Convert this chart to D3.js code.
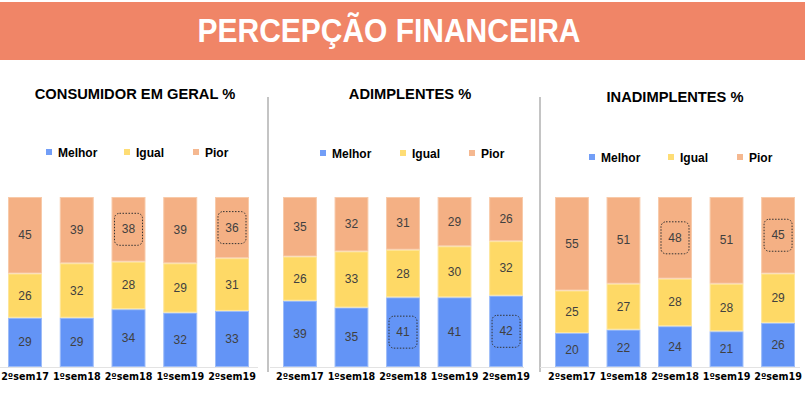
<!DOCTYPE html>
<html><head><meta charset="utf-8">
<script src="https://cdn.jsdelivr.net/npm/d3@7"></script>
<style>body{margin:0;background:#fff}svg{display:block}</style>
</head><body>
<svg id="c" width="808" height="396"></svg>
<script>
const mainTitle = "PERCEPÇÃO FINANCEIRA";
const categories = ["2ºsem17","1ºsem18","2ºsem18","1ºsem19","2ºsem19"];
const seriesNames = ["Melhor","Igual","Pior"];
const panelTitles = ["CONSUMIDOR EM GERAL %","ADIMPLENTES %","INADIMPLENTES %"];

const consumidorMelhor = [29,29,34,32,33];
const consumidorIgual  = [26,32,28,29,31];
const consumidorPior   = [45,39,38,39,36];

const adimplentesMelhor = [39,35,41,41,42];
const adimplentesIgual  = [26,33,28,30,32];
const adimplentesPior   = [35,32,31,29,26];

const inadimplentesMelhor = [20,22,24,21,26];
const inadimplentesIgual  = [25,27,28,28,29];
const inadimplentesPior   = [55,51,48,51,45];

const highlightCategories = ["2ºsem18","2ºsem19"];
const highlightSeries = ["Pior","Melhor","Pior"];

const colors = {Melhor:"#6394f6", Igual:"#fed966", Pior:"#f4b084"};
const strokeCol = {Melhor:"#9dbcf8", Igual:"#fee69a", Pior:"#f8caa9"};

const panels = [
  {title: panelTitles[0], data:[consumidorMelhor,consumidorIgual,consumidorPior],
   x0:8, x1:249, titleX:135, titleY:99, legX:[46,124,193], legY:152, base:[0,258]},
  {title: panelTitles[1], data:[adimplentesMelhor,adimplentesIgual,adimplentesPior],
   x0:283, x1:523, titleX:410, titleY:99, legX:[320,400,469], legY:153, base:[270,524]},
  {title: panelTitles[2], data:[inadimplentesMelhor,inadimplentesIgual,inadimplentesPior],
   x0:555, x1:795, titleX:675, titleY:102, legX:[589,668,737], legY:157, base:[540,800]}
];

const svg = d3.select("#c");

// banner
svg.append("rect").attr("x",0).attr("y",2).attr("width",805).attr("height",58).attr("fill","#f08567");
svg.append("text").attr("x",389).attr("y",42).attr("text-anchor","middle")
  .attr("font-family","'Liberation Sans Narrow','Arial Narrow','Liberation Sans',sans-serif")
  .attr("font-weight","bold").attr("font-size",33).attr("fill","#fff")
  .attr("textLength",383).attr("lengthAdjust","spacingAndGlyphs")
  .text(mainTitle);

// separators
[268,540].forEach(x=>{
  svg.append("line").attr("x1",x).attr("x2",x).attr("y1",97).attr("y2",372)
    .attr("stroke","#c4c4c4").attr("stroke-width",2);
});

const y = d3.scaleLinear().domain([0,100]).range([367,197]);

panels.forEach((p,pi)=>{
  const g = svg.append("g");
  const x = d3.scaleBand().domain(categories).range([p.x0,p.x1]).paddingInner(0.343).paddingOuter(0);

  g.append("text").attr("x",p.titleX).attr("y",p.titleY).attr("text-anchor","middle")
    .attr("font-family","'Liberation Sans',Arial,sans-serif").attr("font-weight","bold")
    .attr("font-size",14.7).attr("fill","#000").text(p.title);

  // legend
  seriesNames.forEach((s,i)=>{
    g.append("rect").attr("x",p.legX[i]).attr("y",p.legY-3).attr("width",6).attr("height",6)
      .attr("fill",colors[s]).attr("opacity",0.9);
    g.append("text").attr("x",p.legX[i]+12).attr("y",p.legY+4.5)
      .attr("font-family","'Liberation Sans',Arial,sans-serif").attr("font-weight","bold")
      .attr("font-size",12).attr("fill","#000").text(s);
  });

  // baseline
  g.append("line").attr("x1",p.base[0]).attr("x2",p.base[1]).attr("y1",367.5).attr("y2",367.5)
    .attr("stroke","#e3e3e3").attr("stroke-width",1);

  // stacked data
  const rows = categories.map((c,ci)=>{
    const o = {cat:c};
    seriesNames.forEach((s,si)=>o[s]=p.data[si][ci]);
    return o;
  });
  const stack = d3.stack().keys(seriesNames)(rows);

  stack.forEach(layer=>{
    const s = layer.key;
    const lg = g.append("g");
    lg.selectAll("rect").data(layer).join("rect")
      .attr("x",d=>x(d.data.cat)+0.5).attr("width",x.bandwidth()-1)
      .attr("y",d=>y(d[1])+0.5).attr("height",d=>y(d[0])-y(d[1])-1)
      .attr("fill",colors[s]).attr("stroke",strokeCol[s]).attr("stroke-width",1);
    lg.selectAll("text").data(layer).join("text")
      .attr("x",d=>x(d.data.cat)+x.bandwidth()/2)
      .attr("y",d=>(y(d[0])+y(d[1]))/2+4)
      .attr("text-anchor","middle")
      .attr("font-family","'Liberation Sans',Arial,sans-serif").attr("font-size",12)
      .attr("fill","#404040").text(d=>d.data[s]);
    // highlight boxes
    if (highlightSeries[pi]===s){
      lg.selectAll("rect.hl").data(layer.filter(d=>highlightCategories.includes(d.data.cat))).join("rect")
        .attr("class","hl")
        .attr("x",d=>x(d.data.cat)+x.bandwidth()/2-14)
        .attr("y",d=>(y(d[0])+y(d[1]))/2-16)
        .attr("width",28).attr("height",32).attr("rx",5)
        .attr("fill","none").attr("stroke","#333").attr("stroke-width",1)
        .attr("stroke-dasharray","1.5,1.5");
    }
  });

  // category axis
  const ax = g.append("g").attr("transform","translate(0,367)")
    .call(d3.axisBottom(x).tickSize(0).tickPadding(6));
  ax.select(".domain").remove();
  ax.selectAll("text").attr("font-family","'DejaVu Sans',Verdana,sans-serif")
    .attr("font-weight","bold").attr("font-size",9.6).attr("fill","#000");
});
</script>
</body></html>
